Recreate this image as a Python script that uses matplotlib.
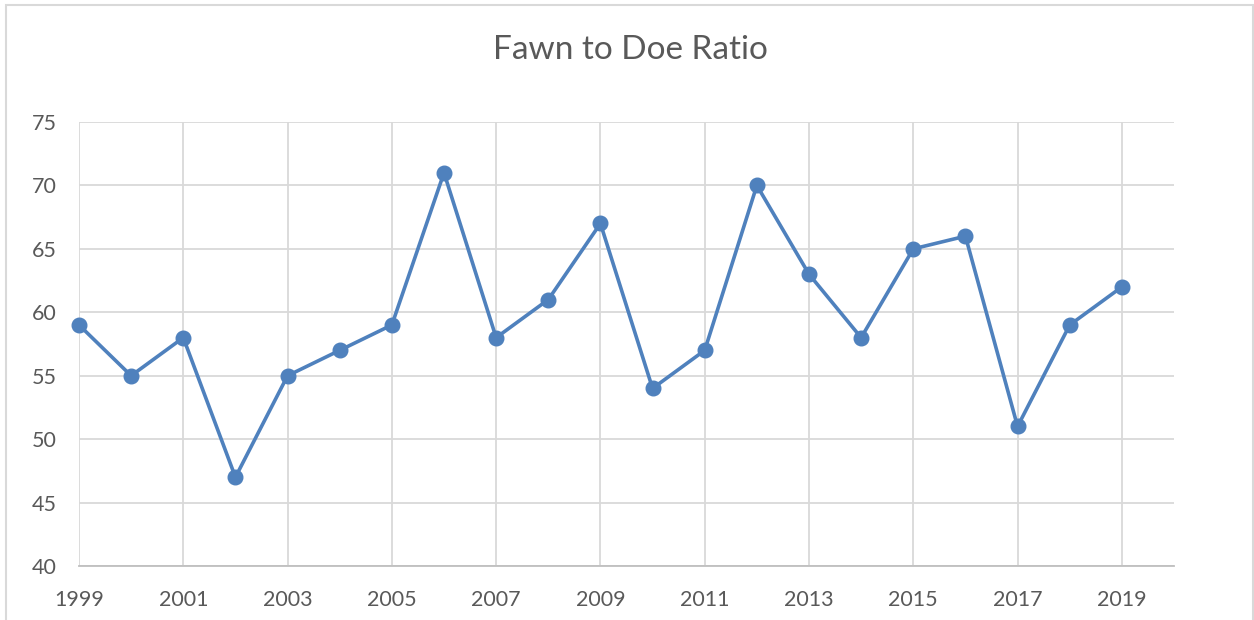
import matplotlib
matplotlib.use("Agg")
import matplotlib.pyplot as plt
from matplotlib.patches import Rectangle

years = list(range(1999, 2020))
ratio = [59, 55, 58, 47, 55, 57, 59, 71, 58, 61, 67, 54, 57, 70, 63, 58, 65, 66, 51, 59, 62]
x_ticks = list(range(1999, 2020, 2))
y_ticks = [40, 45, 50, 55, 60, 65, 70, 75]
title = "Fawn to Doe Ratio"

plt.rcParams['font.family'] = ['Lato', 'DejaVu Sans']
W, H = 1254, 620
fig = plt.figure(figsize=(W / 100, H / 100), dpi=100)
fig.patch.set_facecolor('white')

# chart border
fig.patches.append(Rectangle((6 / W, -0.05), (1253 - 6) / W, (H - 5) / H + 0.05,
                             transform=fig.transFigure, fill=False,
                             edgecolor='#d9d9d9', linewidth=1.5))

left, right, bottom, top = 79, 1174, 566, 122
ax = fig.add_axes([left / W, (H - bottom) / H, (right - left) / W, (bottom - top) / H])
ax.plot(years, ratio, color='#4F81BD', linewidth=2.6, marker='o', markersize=10.5,
        markeredgecolor='#4F81BD', markerfacecolor='#4F81BD', zorder=3, clip_on=False)

ax.set_xlim(1999, 2020)
ax.set_ylim(40, 75)
ax.set_xticks(x_ticks)
ax.set_yticks(y_ticks)
ax.grid(True, color='#d9d9d9', linewidth=1.3)
ax.set_axisbelow(True)
for s in ['top', 'right', 'left']:
    ax.spines[s].set_visible(False)
ax.spines['bottom'].set_color('#bfbfbf')
ax.spines['bottom'].set_linewidth(1.3)
ax.tick_params(axis='both', length=0, labelsize=15.5, labelcolor='#595959')
ax.tick_params(axis='x', pad=17)
ax.tick_params(axis='y', pad=16)

fig.text(630 / W, 1 - 50 / H, title, ha='center', va='center', fontsize=24, color='#595959')

fig.savefig('out.png', dpi=100)
